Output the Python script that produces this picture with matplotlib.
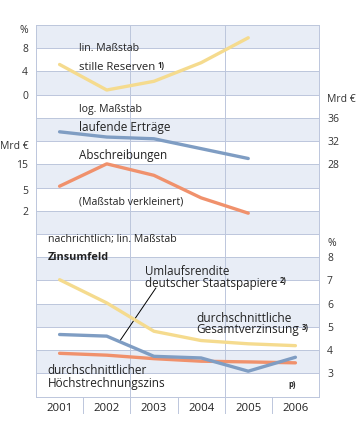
import numpy as np
import matplotlib

matplotlib.use('Agg')
import matplotlib.pyplot as plt

plt.rcParams['font.family'] = ['Open Sans', 'DejaVu Sans']

# data
years = [2001, 2002, 2003, 2004, 2005, 2006]
years_top = [2001, 2002, 2003, 2004, 2005]
stille_reserven = [5.2, 0.8, 2.3, 5.5, 9.8]          # %, lin.
laufende_ertraege = [33.6, 32.7, 32.4, 30.7, 29.0]    # Mrd EUR
abschreibungen = [5.8, 15.3, 9.3, 3.5, 1.8]           # Mrd EUR, log.
gesamtverzinsung = [7.03, 6.03, 4.81, 4.41, 4.27, 4.19]
umlaufrendite = [4.67, 4.60, 3.73, 3.66, 3.09, 3.69]
rechnungszins = [3.86, 3.78, 3.63, 3.52, 3.49, 3.45]

ticks_top = [0, 4, 8]
ticks_ertraege = [28, 32, 36]
ticks_abschr = [2, 5, 15]
ticks_zins = [3, 4, 5, 6, 7, 8]

c_yellow = '#f5db8e'
c_blue = '#7f9dc3'
c_orange = '#f0916c'
c_band = '#e8edf6'
c_grid = '#bcc6dc'
c_text = '#222222'
c_num = '#333333'

W, H = 359, 429
fig = plt.figure(figsize=(W / 100, H / 100), dpi=100)
x0, x1, y0, y1 = 36, 319, 25, 396.5
rect = [x0 / W, 1 - y1 / H, (x1 - x0) / W, (y1 - y0) / H]
xlim = (2000.5, 2006.5)
nb = 16

# background: bands + grid
bg = fig.add_axes(rect)
bg.set_xlim(*xlim)
bg.set_ylim(nb, 0)
for b in range(nb):
    if b % 2 == 0:
        bg.axhspan(b, b + 1, color=c_band, lw=0)
for b in range(1, nb):
    bg.axhline(b, color=c_grid, lw=0.7)
for xv in [2002.5, 2004.5]:
    bg.axvline(xv, color=c_grid, lw=0.7)
for s in bg.spines.values():
    s.set_color(c_grid)
    s.set_linewidth(0.7)
bg.set_xticks([])
bg.set_yticks([])


def layer(lo, hi, log=False):
    ax = fig.add_axes(rect, facecolor='none')
    ax.set_xlim(*xlim)
    if log:
        ax.set_yscale('log')
    ax.set_ylim(lo, hi)
    for s in ax.spines.values():
        s.set_visible(False)
    ax.set_xticks([])
    ax.tick_params(length=0, pad=5.8, labelsize=7.5, labelcolor=c_num)
    ax.minorticks_off()
    return ax


lw = 2.4
style = dict(lw=lw, solid_joinstyle='round', solid_capstyle='round')
# top: stille Reserven, value = 12 - 4*band
ax_top = layer(12 - 4 * nb, 12)
ax_top.plot(years_top, stille_reserven, color=c_yellow, **style)
ax_top.set_yticks(ticks_top)

# laufende Ertraege, value = 52 - 4*band, right side
ax_e = layer(52 - 4 * nb, 52)
ax_e.plot(years_top, laufende_ertraege, color=c_blue, **style)
ax_e.yaxis.tick_right()
ax_e.set_yticks(ticks_ertraege)

# Abschreibungen, log scale: 15 at band 6, 2 at band 8
k = np.log10(15 / 2) / 2
ax_a = layer(15 * 10 ** (-k * (nb - 6)), 15 * 10 ** (k * 6), log=True)
ax_a.plot(years_top, abschreibungen, color=c_orange, **style)
ax_a.set_yticks(ticks_abschr)
ax_a.set_yticklabels([str(t) for t in ticks_abschr])
ax_a.minorticks_off()

# Zinsumfeld, value = 18 - band
ax_z = layer(18 - nb, 18)
ax_z.plot(years, gesamtverzinsung, color=c_yellow, **style)
ax_z.plot(years, rechnungszins, color=c_orange, **style)
ax_z.plot(years, umlaufrendite, color=c_blue, **style)
ax_z.yaxis.tick_right()
ax_z.set_yticks(ticks_zins)

# texts in band coordinates
fs = 7.6


def txt(x, y, s, **kw):
    kw.setdefault('fontsize', fs)
    kw.setdefault('color', c_text)
    kw.setdefault('va', 'center')
    return bg.text(x, y, s, **kw)


def sup(t, s):
    bg.annotate(s, xy=(1, 1), xycoords=t, xytext=(1.8, 0.5), textcoords='offset points',
                fontsize=5.5, fontweight='bold', va='top', ha='left', color=c_text)


txt(2001.41, 1.03, 'lin. Maßstab')
t = txt(2001.41, 1.81, 'stille Reserven', fontsize=8.1)
sup(t, '1)')
txt(2001.41, 3.66, 'log. Maßstab')
txt(2001.41, 4.40, 'laufende Erträge', fontsize=8.5)
txt(2001.41, 5.64, 'Abschreibungen', fontsize=8.4)
txt(2001.41, 7.64, '(Maßstab verkleinert)')
txt(2000.75, 9.22, 'nachrichtlich; lin. Maßstab')
txt(2000.75, 10.03, 'Zinsumfeld', fontweight='bold', fontsize=7.8)
txt(2002.81, 10.62, 'Umlaufsrendite', fontsize=8.4)
t = txt(2002.81, 11.12, 'deutscher Staatspapiere', fontsize=8.4)
sup(t, '2)')
txt(2003.89, 12.63, 'durchschnittliche', fontsize=8.6)
t = txt(2003.89, 13.13, 'Gesamtverzinsung', fontsize=8.6)
sup(t, '3)')
txt(2000.75, 14.90, 'durchschnittlicher', fontsize=8.5)
txt(2000.75, 15.46, 'Höchstrechnungszins', fontsize=8.5)
txt(2005.93, 15.5, 'p)', fontsize=5.5, fontweight='bold', ha='center')
bg.plot([2002.28, 2003.04], [13.6, 11.33], color='black', lw=0.7)

# units
txt(2000.33, 0.22, '%', ha='right', color=c_num, fontsize=7.5)
txt(2000.35, 5.25, 'Mrd €', ha='right', color=c_num, fontsize=7.5)
txt(2006.67, 3.23, 'Mrd €', ha='left', color=c_num, fontsize=7.5, clip_on=False)
txt(2006.67, 9.39, '%', ha='left', color=c_num, fontsize=7.5, clip_on=False)

# year row
for yr in years:
    txt(yr, 16.5, str(yr), ha='center', fontsize=8.2, clip_on=False)
for i in range(len(years) - 1):
    bg.plot([years[i] + 0.5] * 2, [nb, 16.72], color=c_grid, lw=0.7, clip_on=False)

fig.savefig('out.png', dpi=100)
